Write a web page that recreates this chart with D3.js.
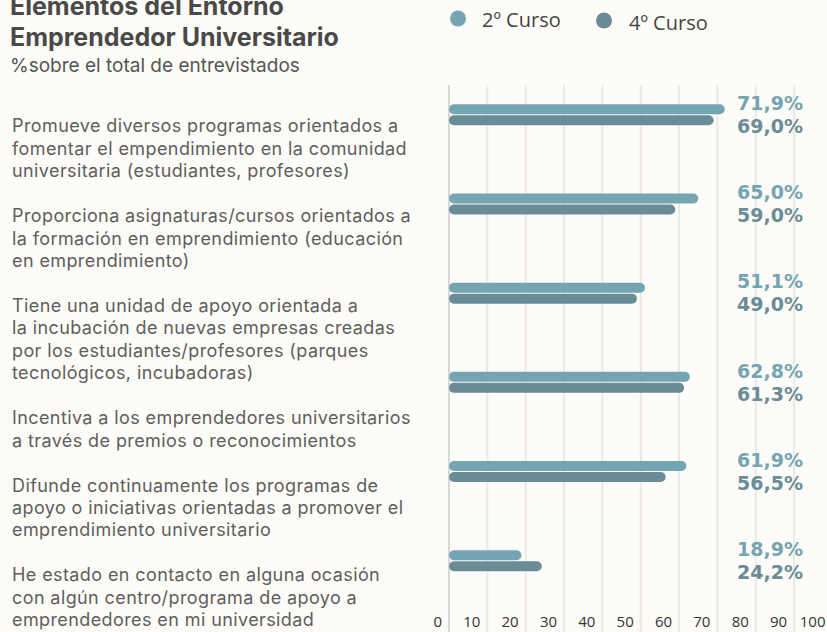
<!DOCTYPE html>
<html>
<head>
<meta charset="utf-8">
<script src="https://cdn.jsdelivr.net/npm/d3@7"></script>
<style>
  html, body { margin: 0; padding: 0; background: #fdfcf8; }
  svg { display: block; font-family: "Open Sans", sans-serif; }
  .lbl { font-family: Inter, "Open Sans", sans-serif; }
  .val { font-family: "DejaVu Sans", sans-serif; }
</style>
</head>
<body>
<svg width="827" height="632"></svg>
<script>
// Labels on the left (the original shows 7 texts but only 6 bar groups)
var categories = [
  ["Promueve diversos programas orientados a", "fomentar el empendimiento en la comunidad", "universitaria (estudiantes, profesores)"],
  ["Proporciona asignaturas/cursos orientados a", "la formación en emprendimiento (educación", "en emprendimiento)"],
  ["Tiene una unidad de apoyo orientada a", "la incubación de nuevas empresas creadas", "por los estudiantes/profesores (parques", "tecnológicos, incubadoras)"],
  ["Incentiva a los emprendedores universitarios", "a través de premios o reconocimientos"],
  ["Difunde continuamente los programas de", "apoyo o iniciativas orientadas a promover el", "emprendimiento universitario"],
  ["He estado en contacto en alguna ocasión", "con algún centro/programa de apoyo a", "emprendedores en mi universidad"]
];
var series = ["2º Curso", "4º Curso"];
var curso2 = [71.9, 65.0, 51.1, 62.8, 61.9, 18.9];
var curso4 = [69.0, 59.0, 49.0, 61.3, 56.5, 24.2];
var tickValues = [0, 10, 20, 30, 40, 50, 60, 70, 80, 90, 100];

var colors = ["#75a4b2", "#6a8c97"];
var svg = d3.select("svg");

// Title
svg.append("text").attr("class", "lbl").attr("x", 10).attr("y", 15)
  .attr("font-size", 25).attr("font-weight", 700).attr("fill", "#494949")
  .text("Elementos del Entorno");
svg.append("text").attr("class", "lbl").attr("x", 10).attr("y", 46)
  .attr("font-size", 25).attr("font-weight", 700).attr("fill", "#494949")
  .text("Emprendedor Universitario");
svg.append("text").attr("class", "lbl").attr("x", 10).attr("y", 72)
  .attr("font-size", 19).attr("fill", "#555")
  .text("%sobre el total de entrevistados");

// Legend
var legend = svg.append("g");
[[458, 18.5, 482, 27], [604, 20.5, 629, 30]].forEach(function (p, i) {
  legend.append("circle").attr("cx", p[0]).attr("cy", p[1]).attr("r", 8).attr("fill", colors[i]);
  legend.append("text").attr("x", p[2]).attr("y", p[3])
    .attr("font-size", 20).attr("fill", "#444").text(series[i]);
});

// Scales
var x = d3.scaleLinear().domain([0, 100]).range([449, 832.5]);
var y = d3.scalePoint().domain(d3.range(curso2.length)).range([114.7, 560.8]);

// Gridlines
svg.append("g").selectAll("line")
  .data(tickValues)
  .enter().append("line")
  .attr("x1", function (d) { return x(d); })
  .attr("x2", function (d) { return x(d); })
  .attr("y1", 85).attr("y2", 632)
  .attr("stroke", function (d) { return d === 0 ? "#d8d8d6" : "#ebe9e5"; })
  .attr("stroke-width", 2);

// Axis tick labels (right-aligned just left of each gridline)
svg.append("g").selectAll("text")
  .data(tickValues)
  .enter().append("text")
  .attr("x", function (d) { return x(d) - 7; })
  .attr("y", 627)
  .attr("text-anchor", "end")
  .attr("font-size", 15).attr("fill", "#333")
  .text(function (d) { return d; });

// Bars
var rows = curso2.map(function (v, i) { return [v, curso4[i]]; });
var groups = svg.append("g").selectAll("g")
  .data(rows)
  .enter().append("g");

groups.selectAll("rect")
  .data(function (d, i) { return d.map(function (v, j) { return { v: v, i: i, j: j }; }); })
  .enter().append("rect")
  .attr("x", x(0))
  .attr("y", function (d) { return y(d.i) + (d.j === 0 ? -10.5 : 0.5); })
  .attr("width", function (d) { return x(d.v) - x(0); })
  .attr("height", 10)
  .attr("rx", 5)
  .attr("fill", function (d) { return colors[d.j]; });

// Value labels
var fmt = function (v) { return d3.format(".1f")(v).replace(".", ",") + "%"; };
groups.selectAll("text")
  .data(function (d, i) { return d.map(function (v, j) { return { v: v, i: i, j: j }; }); })
  .enter().append("text")
  .attr("class", "val")
  .attr("x", 803)
  .attr("y", function (d) { return y(d.i) + (d.j === 0 ? -4.7 : 18.3); })
  .attr("text-anchor", "end")
  .attr("font-size", 19).attr("font-weight", 700)
  .attr("fill", function (d) { return colors[d.j]; })
  .text(function (d) { return fmt(d.v); });

// Left category texts, flowed top to bottom with a blank line between items
var lineH = 22.45, cy = 132.3;
var labels = svg.append("g");
categories.forEach(function (lines) {
  lines.forEach(function (t) {
    labels.append("text").attr("class", "lbl").attr("x", 12).attr("y", cy)
      .attr("font-size", 18).attr("letter-spacing", 0.4)
      .attr("fill", "#5e5e5e").text(t);
    cy += lineH;
  });
  cy += lineH;
});
</script>
</body>
</html>
